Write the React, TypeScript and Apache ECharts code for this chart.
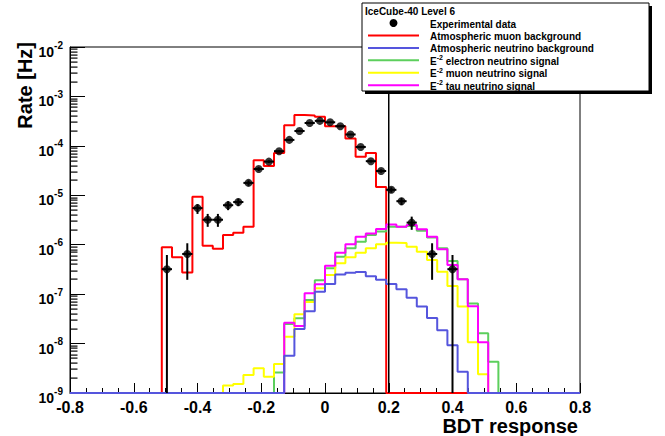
import React, { useEffect, useRef } from "react";
import * as echarts from "echarts";

// ---------- axes ----------
const X_MIN = -0.8;
const X_MAX = 0.8;
const BIN_W = 0.032; // 50 bins over [-0.8, 0.8]
const N_BINS = 50;
const Y_MIN = 1e-9;
const Y_MAX = 1e-2;
const xTickLabels = ["-0.8", "-0.6", "-0.4", "-0.2", "0", "0.2", "0.4", "0.6", "0.8"];
const yDecades = [-9, -8, -7, -6, -5, -4, -3, -2];
const yMinorMultipliers = [2, 3, 4, 5, 6, 7, 8, 9];
const cutValue = 0.2;

// ---------- experimental data (bin centres) ----------
const dataBDT = [-0.496, -0.432, -0.4, -0.368, -0.336, -0.304, -0.272, -0.24, -0.208, -0.176, -0.144, -0.112, -0.08, -0.048, -0.016, 0.016, 0.048, 0.08, 0.112, 0.144, 0.176, 0.208, 0.24, 0.272, 0.336, 0.4];
const dataRate = [3.2e-7, 6.5e-7, 5.5e-6, 3.2e-6, 3.2e-6, 6.3e-6, 7.3e-6, 1.78e-5, 3.4e-5, 4.8e-5, 7.8e-5, 1.32e-4, 2.0e-4, 2.9e-4, 3.2e-4, 3.0e-4, 2.5e-4, 1.7e-4, 9.5e-5, 4.9e-5, 3.1e-5, 1.29e-5, 7.6e-6, 2.8e-6, 6.5e-7, 3.2e-7];
const dataErrHigh = [6.2e-7, 1.07e-6, 6.6e-6, 4.2e-6, 4.2e-6, 7.6e-6, 8.6e-6, 2.0e-5, 3.7e-5, 5.1e-5, 8.2e-5, 1.37e-4, 2.06e-4, 2.97e-4, 3.27e-4, 3.07e-4, 2.56e-4, 1.75e-4, 9.9e-5, 5.2e-5, 3.35e-5, 1.45e-5, 8.9e-6, 3.7e-6, 1.07e-6, 6.2e-7];
const dataErrLow = [0, 1.95e-7, 4.2e-6, 2.3e-6, 2.3e-6, 5.0e-6, 6.0e-6, 1.56e-5, 3.1e-5, 4.5e-5, 7.4e-5, 1.27e-4, 1.94e-4, 2.83e-4, 3.13e-4, 2.93e-4, 2.44e-4, 1.65e-4, 9.1e-5, 4.6e-5, 2.85e-5, 1.13e-5, 6.3e-6, 2.0e-6, 1.95e-7, 0];

// ---------- histograms (first filled bin index, contents) ----------
const muonBgFirstBin = 9;
const muonBg = [8.9e-7, 5.6e-7, 2.75e-7, 9.3e-6, 9.5e-7, 8.3e-7, 1.58e-6, 1.74e-6, 2.3e-6, 5.1e-5, 3.9e-5, 7.2e-5, 2.6e-4, 4.2e-4, 4.1e-4, 3.9e-4, 2.5e-4, 2.5e-4, 1.41e-4, 6.0e-5, 7.2e-5, 1.47e-5];

const nuBgFirstBin = 21;
const nuBg = [5.7e-9, 1.97e-8, 4.5e-8, 1.12e-7, 1.6e-7, 2.5e-7, 2.7e-7, 2.8e-7, 2.3e-7, 1.95e-7, 1.6e-7, 1.25e-7, 8.5e-8, 5.6e-8, 3.3e-8, 1.86e-8, 9.3e-9, 2.7e-9];

const eSignalFirstBin = 20;
const eSignal = [2.6e-9, 2.5e-8, 3.24e-8, 7.6e-8, 1.91e-7, 3.33e-7, 5.7e-7, 8.5e-7, 1.15e-6, 1.58e-6, 1.84e-6, 2.3e-6, 2.3e-6, 2.4e-6, 1.92e-6, 1.4e-6, 8.5e-7, 4.7e-7, 2.0e-7, 6.5e-8, 1.62e-8, 4.3e-9];

const muSignalFirstBin = 15;
const muSignal = [1.41e-9, 1.52e-9, 2.31e-9, 3.16e-9, 2.14e-9, 3.86e-9, 1.38e-8, 3.9e-8, 6.9e-8, 1.31e-7, 2.45e-7, 4.2e-7, 5.6e-7, 6.9e-7, 8.5e-7, 1.02e-6, 1.1e-6, 1.08e-6, 9.1e-7, 7.2e-7, 4.9e-7, 2.85e-7, 1.46e-7, 5.6e-8, 1.06e-8, 2.4e-9];

const tauSignalFirstBin = 21;
const tauSignal = [2.64e-8, 2.26e-8, 1.04e-7, 1.58e-7, 3.77e-7, 6.9e-7, 1.02e-6, 1.45e-6, 1.69e-6, 2.08e-6, 2.57e-6, 2.32e-6, 2.5e-6, 2.05e-6, 1.45e-6, 8.1e-7, 3.9e-7, 2.0e-7, 5.7e-8, 1.06e-8];

const legendTitle = "IceCube-40 Level 6";
const legendNames = [
  "Experimental data",
  "Atmospheric muon background",
  "Atmospheric neutrino background",
  "E^-2 electron neutrino signal",
  "E^-2 muon neutrino signal",
  "E^-2 tau neutrino signal",
];

const RED = "#ff0000";
const BLUE = "#5555dd";
const GREEN = "#5ccf5c";
const YELLOW = "#ffff00";
const MAGENTA = "#ff00ff";
const FONT = "'Liberation Sans', Arial, Helvetica, sans-serif";

function stepData(firstBin: number, vals: number[]) {
  const full: number[] = [];
  for (let i = 0; i < N_BINS; i++) {
    const j = i - firstBin;
    const v = j >= 0 && j < vals.length ? vals[j] : 0;
    full.push(v > Y_MIN ? v : Y_MIN);
  }
  const pts: number[][] = [];
  for (let i = 0; i < N_BINS; i++) pts.push([X_MIN + i * BIN_W, full[i]]);
  pts.push([X_MAX, full[N_BINS - 1]]);
  return pts;
}

function histSeries(name: string, color: string, firstBin: number, vals: number[]) {
  return {
    name,
    type: "line",
    step: "end",
    data: stepData(firstBin, vals),
    showSymbol: false,
    symbol: "none",
    clip: false,
    lineStyle: { color, width: 2 },
    itemStyle: { color },
    z: 3,
  };
}

function supText(s: string) {
  if (s.startsWith("E^-2")) return "{n|E}{s|-2}{n|" + s.slice(4) + "}";
  return "{n|" + s + "}";
}

// minor tick values for the log y axis (2..9 x decade)
function yMinorValues() {
  const out: number[] = [];
  for (const e of yDecades) {
    if (e < -2) for (const k of yMinorMultipliers) out.push(k * Math.pow(10, e));
  }
  return out;
}

export default function App() {
  const ref = useRef<HTMLDivElement>(null);
  useEffect(() => {
    if (!ref.current) return;
    const chart = echarts.init(ref.current, null, { renderer: "svg" });

    const errData = dataBDT.map((x, i) => [x, dataRate[i], dataErrHigh[i], dataErrLow[i]]);
    const minorVals = yMinorValues();

    // legend graphics
    const LX = 362, LY = 3, LW = 287, LH = 88;
    const rowY0 = 23, rowDY = 12.45;
    const symX1 = 368, symX2 = 419, textX = 430;
    const lineColors = [null, RED, BLUE, GREEN, YELLOW, MAGENTA];
    const legendEls: any[] = [
      { type: "rect", z: 100, shape: { x: LX + 3, y: LY + 3, width: LW, height: LH }, style: { fill: "#000" } },
      { type: "rect", z: 101, shape: { x: LX, y: LY, width: LW, height: LH }, style: { fill: "#fff", stroke: "#000", lineWidth: 1 } },
      { type: "text", z: 102, x: LX + 3, y: 11, style: { text: legendTitle, font: "bold 10px " + FONT, fill: "#000", verticalAlign: "middle", align: "left" } },
    ];
    legendNames.forEach((name, i) => {
      const y = rowY0 + i * rowDY;
      if (i === 0) {
        legendEls.push({ type: "circle", z: 102, shape: { cx: (symX1 + symX2) / 2, cy: y, r: 4 }, style: { fill: "#000" } });
      } else {
        legendEls.push({ type: "line", z: 102, shape: { x1: symX1, y1: y, x2: symX2, y2: y }, style: { stroke: lineColors[i], lineWidth: 2 } });
      }
      legendEls.push({
        type: "text",
        z: 102,
        x: textX,
        y,
        style: {
          text: supText(name),
          fill: "#000",
          align: "left",
          verticalAlign: "middle",
          rich: {
            n: { fontSize: 10, fontWeight: "bold", fontFamily: FONT, lineHeight: 12, verticalAlign: "bottom" },
            s: { fontSize: 7, fontWeight: "bold", fontFamily: FONT, lineHeight: 7, verticalAlign: "top" },
          },
        },
      });
    });

    const option: any = {
      animation: false,
      backgroundColor: "#fff",
      textStyle: { fontFamily: FONT },
      grid: { left: 70, right: 85, top: 47, bottom: 43, show: true, borderColor: "#000", borderWidth: 1, backgroundColor: "rgba(0,0,0,0)" },
      xAxis: {
        type: "value",
        min: X_MIN,
        max: X_MAX,
        interval: 0.2,
        axisLine: { show: true, onZero: false, lineStyle: { color: "#000", width: 1 } },
        axisTick: { show: true, inside: true, length: 10, lineStyle: { color: "#000" } },
        minorTick: { show: true, splitNumber: 4, length: 5, lineStyle: { color: "#000" } },
        splitLine: { show: false },
        axisLabel: {
          margin: 6,
          color: "#000",
          fontSize: 16,
          fontWeight: "bold",
          fontFamily: FONT,
          formatter: (v: number) => {
            const idx = Math.round((v - X_MIN) / 0.2);
            return xTickLabels[idx] ?? "";
          },
        },
      },
      yAxis: {
        type: "log",
        logBase: 10,
        min: Y_MIN,
        max: Y_MAX,
        splitNumber: 7,
        axisLine: { show: true, onZero: false, lineStyle: { color: "#000", width: 1 } },
        axisTick: { show: true, inside: true, length: 15, lineStyle: { color: "#000", width: 1 } },
        splitLine: { show: false },
        axisLabel: {
          margin: 7,
          color: "#000",
          padding: [5, 0, 0, 0],
          formatter: (v: number) => {
            const e = Math.round(Math.log10(v));
            if (!yDecades.includes(e)) return "";
            return "{h| }{b|10}{s|" + e + "}";
          },
          rich: {
            h: { fontSize: 1, lineHeight: 19 },
            b: { fontSize: 14, fontWeight: "bold", fontFamily: FONT, lineHeight: 14, verticalAlign: "bottom", color: "#000" },
            s: { fontSize: 10, fontWeight: "bold", fontFamily: FONT, lineHeight: 10, verticalAlign: "top", color: "#000" },
          },
        },
      },
      graphic: [
        {
          type: "text",
          z: 50,
          x: 25,
          y: 42,
          rotation: Math.PI / 2,
          style: { text: "Rate [Hz]", font: "bold 20px " + FONT, fill: "#000", align: "right", verticalAlign: "middle" },
        },
        {
          type: "text",
          z: 50,
          x: 578,
          y: 426,
          style: { text: "BDT response", font: "bold 20px " + FONT, fill: "#000", align: "right", verticalAlign: "middle" },
        },
        ...legendEls,
      ],
      series: [
        histSeries("Atmospheric muon background", RED, muonBgFirstBin, muonBg),
        histSeries("E-2 electron neutrino signal", GREEN, eSignalFirstBin, eSignal),
        histSeries("E-2 muon neutrino signal", YELLOW, muSignalFirstBin, muSignal),
        histSeries("E-2 tau neutrino signal", MAGENTA, tauSignalFirstBin, tauSignal),
        histSeries("Atmospheric neutrino background", BLUE, nuBgFirstBin, nuBg),
        {
          name: "cut",
          type: "line",
          data: [[cutValue, Y_MIN], [cutValue, Y_MAX]],
          showSymbol: false,
          symbol: "none",
          clip: false,
          lineStyle: { color: "#000", width: 1.5 },
          z: 4,
        },
        {
          name: "errors",
          type: "custom",
          data: errData,
          encode: { x: 0, y: 1 },
          z: 5,
          clip: false,
          renderItem: (params: any, api: any) => {
            const x = api.value(0);
            const y = api.value(1);
            const hi = api.value(2);
            const lo = Math.max(api.value(3), Y_MIN);
            const top = api.coord([x, hi]);
            const bot = api.coord([x, lo]);
            const l = api.coord([x - BIN_W / 2, y]);
            const r = api.coord([x + BIN_W / 2, y]);
            const children: any[] = [
              { type: "line", shape: { x1: top[0], y1: top[1], x2: bot[0], y2: bot[1] }, style: { stroke: "#000", lineWidth: 2 } },
              { type: "line", shape: { x1: l[0], y1: l[1], x2: r[0], y2: r[1] }, style: { stroke: "#000", lineWidth: 2 } },
            ];
            if (params.dataIndex === 0) {
              // log-axis minor ticks (2..9 x decade), placed with the axis scale
              for (const v of minorVals) {
                const p = api.coord([X_MIN, v]);
                children.push({
                  type: "rect",
                  shape: { x: p[0], y: Math.round(p[1]) - 0.5, width: 7.5, height: 1.2 },
                  style: { fill: "#000" },
                });
              }
            }
            return { type: "group", children };
          },
        },
        {
          name: "Experimental data",
          type: "scatter",
          data: dataBDT.map((x, i) => [x, dataRate[i]]),
          symbol: "circle",
          symbolSize: 8,
          itemStyle: { color: "#000" },
          z: 6,
        },
      ],
    };
    chart.setOption(option);
    return () => chart.dispose();
  }, []);
  return <div ref={ref} style={{ position: "absolute", left: 0, top: 0, width: 665, height: 436, background: "#fff" }} />;
}
